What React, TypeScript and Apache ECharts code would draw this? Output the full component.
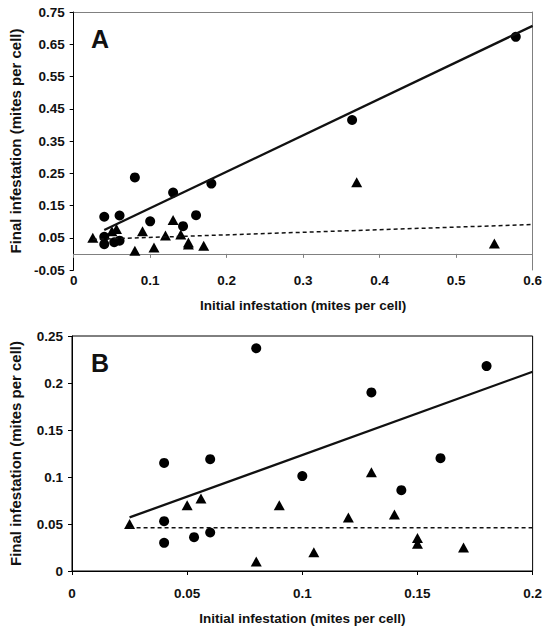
import React, { useEffect, useRef } from "react";
import * as echarts from "echarts";

// Circles (first group)
const circleX = [0.04, 0.06, 0.08, 0.1, 0.13, 0.143, 0.16, 0.18, 0.04, 0.06, 0.053, 0.04, 0.364, 0.578];
const circleY = [0.115, 0.119, 0.237, 0.101, 0.19, 0.086, 0.12, 0.218, 0.053, 0.041, 0.036, 0.03, 0.415, 0.673];
// Triangles (second group)
const triX = [0.025, 0.05, 0.056, 0.09, 0.08, 0.105, 0.12, 0.13, 0.14, 0.15, 0.15, 0.17, 0.37, 0.55];
const triY = [0.05, 0.07, 0.077, 0.07, 0.01, 0.02, 0.057, 0.105, 0.06, 0.035, 0.029, 0.025, 0.222, 0.032];

// Trend lines (endpoints)
const trendSolidAX = [0.04, 0.6];
const trendSolidAY = [0.074, 0.707];
const trendDashAX = [0.025, 0.6];
const trendDashAY = [0.045, 0.091];
const trendSolidBX = [0.025, 0.2];
const trendSolidBY = [0.057, 0.212];
const trendDashBX = [0.025, 0.2];
const trendDashBY = [0.046, 0.046];

// Axis settings
const axisA = { xMin: 0, xMax: 0.6, xStep: 0.1, yMin: -0.05, yMax: 0.75, yStep: 0.1 };
const axisB = { xMin: 0, xMax: 0.2, xStep: 0.05, yMin: 0, yMax: 0.25, yStep: 0.05 };

const panelLabels = ["A", "B"];
const xTitle = "Initial infestation (mites per cell)";
const yTitle = "Final infestation (mites per cell)";

const zip = (xs: number[], ys: number[]) => xs.map((x, i) => [x, ys[i]]);

const FONT = "Liberation Sans";

export default function App() {
  const ref = useRef<HTMLDivElement>(null);
  useEffect(() => {
    if (!ref.current) return;
    const chart = echarts.init(ref.current, undefined, { renderer: "svg" });
    const labelStyle = { fontFamily: FONT, fontWeight: "bold" as const, fontSize: 13.5, color: "#111" };
    const nameStyle = { fontFamily: FONT, fontWeight: "bold" as const, fontSize: 13.5, color: "#111" };
    const black = "#000";
    const gray = "#808080";
    const markStyle = { color: "#000", opacity: 1 };

    const circles = zip(circleX, circleY);
    const tris = zip(triX, triY);

    const option: any = {
      animation: false,
      backgroundColor: "#fff",
      grid: [
        { left: 72, top: 12, width: 462, height: 258 },
        { left: 72, top: 336, width: 462, height: 235, show: true, borderColor: black, borderWidth: 1 },
      ],
      graphic: [
        {
          type: "text",
          x: 100,
          y: 39,
          style: { text: panelLabels[0], font: `bold 25px ${FONT}`, fill: "#111", align: "center", verticalAlign: "middle" },
        },
        {
          type: "text",
          x: 100,
          y: 363,
          style: { text: panelLabels[1], font: `bold 25px ${FONT}`, fill: "#111", align: "center", verticalAlign: "middle" },
        },
      ],
      xAxis: [
        {
          type: "value", gridIndex: 0, position: "bottom", min: axisA.xMin, max: axisA.xMax, interval: axisA.xStep,
          axisLine: { show: false, onZero: false }, axisTick: { show: false }, splitLine: { show: false },
          axisLabel: { ...labelStyle, margin: 3 },
          name: xTitle, nameLocation: "middle", nameGap: 28, nameTextStyle: nameStyle,
        },
        {
          type: "value", gridIndex: 0, position: "bottom", min: axisA.xMin, max: axisA.xMax, interval: axisA.xStep,
          axisLine: { show: true, onZero: true, onZeroAxisIndex: 0, lineStyle: { color: gray, width: 1 } },
          axisTick: { show: true, length: 4, lineStyle: { color: gray } },
          axisLabel: { show: false }, splitLine: { show: false },
        },
        {
          type: "value", gridIndex: 0, position: "top", min: axisA.xMin, max: axisA.xMax,
          axisLine: { show: true, onZero: false, lineStyle: { color: gray, width: 1 } },
          axisTick: { show: false }, axisLabel: { show: false }, splitLine: { show: false },
        },
        {
          type: "value", gridIndex: 1, position: "bottom", min: axisB.xMin, max: axisB.xMax, interval: axisB.xStep,
          axisLine: { show: true, onZero: false, lineStyle: { color: black, width: 1 } },
          axisTick: { show: true, length: 4, lineStyle: { color: black } },
          axisLabel: { ...labelStyle, margin: 15 }, splitLine: { show: false },
          name: xTitle, nameLocation: "middle", nameGap: 40, nameTextStyle: nameStyle,
        },
      ],
      yAxis: [
        {
          type: "value", gridIndex: 0, position: "left", min: axisA.yMin, max: axisA.yMax, interval: axisA.yStep,
          axisLine: { show: true, onZero: false, lineStyle: { color: black, width: 1 } },
          axisTick: { show: true, length: 4, lineStyle: { color: black } },
          axisLabel: { ...labelStyle, margin: 9, formatter: (v: number) => v.toFixed(2) },
          splitLine: { show: false },
          name: yTitle, nameLocation: "middle", nameGap: 49, nameRotate: 90, nameTextStyle: { ...nameStyle, fontSize: 15 },
        },
        {
          type: "value", gridIndex: 0, position: "right", min: axisA.yMin, max: axisA.yMax,
          axisLine: { show: true, onZero: false, lineStyle: { color: gray, width: 1 } },
          axisTick: { show: false }, axisLabel: { show: false }, splitLine: { show: false },
        },
        {
          type: "value", gridIndex: 1, position: "left", min: axisB.yMin, max: axisB.yMax, interval: axisB.yStep,
          axisLine: { show: true, onZero: false, lineStyle: { color: black, width: 1 } },
          axisTick: { show: true, length: 4, lineStyle: { color: black } },
          axisLabel: { ...labelStyle, margin: 9 },
          splitLine: { show: false },
          name: yTitle, nameLocation: "middle", nameGap: 49, nameRotate: 90, nameTextStyle: { ...nameStyle, fontSize: 15 },
        },
      ],
      series: [
        { type: "scatter", xAxisIndex: 0, yAxisIndex: 0, data: circles, symbol: "circle", symbolSize: 10, itemStyle: markStyle },
        { type: "scatter", xAxisIndex: 0, yAxisIndex: 0, data: tris, symbol: "triangle", symbolSize: [11, 10], itemStyle: markStyle },
        { type: "line", xAxisIndex: 0, yAxisIndex: 0, data: zip(trendSolidAX, trendSolidAY), symbol: "none", lineStyle: { color: "#111", width: 2.3 } },
        { type: "line", xAxisIndex: 0, yAxisIndex: 0, data: zip(trendDashAX, trendDashAY), symbol: "none", lineStyle: { color: "#111", width: 1.5, type: [4, 3] } },
        { type: "scatter", xAxisIndex: 3, yAxisIndex: 2, data: circles, symbol: "circle", symbolSize: 10, itemStyle: markStyle, clip: true },
        { type: "scatter", xAxisIndex: 3, yAxisIndex: 2, data: tris, symbol: "triangle", symbolSize: [11, 10], itemStyle: markStyle, clip: true },
        { type: "line", xAxisIndex: 3, yAxisIndex: 2, data: zip(trendSolidBX, trendSolidBY), symbol: "none", lineStyle: { color: "#111", width: 2.3 } },
        { type: "line", xAxisIndex: 3, yAxisIndex: 2, data: zip(trendDashBX, trendDashBY), symbol: "none", lineStyle: { color: "#111", width: 1.5, type: [4, 3] } },
      ],
    };
    chart.setOption(option);
    return () => chart.dispose();
  }, []);
  return <div ref={ref} style={{ position: "fixed", left: 0, top: 0, width: 545, height: 632 }} />;
}
